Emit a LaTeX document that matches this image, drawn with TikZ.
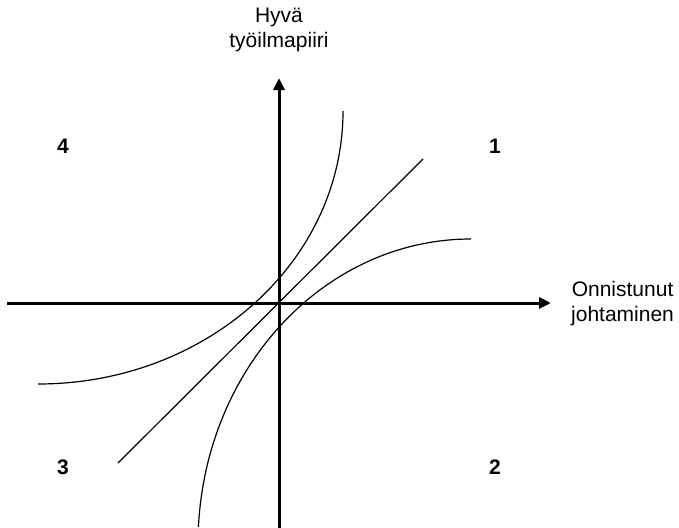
\documentclass[tikz,border=0pt]{standalone}
\usepackage{fontspec}
\setmainfont{Liberation Sans}
\usetikzlibrary{arrows.meta}
\tikzset{
  axis/.style={line width=3pt,-{Triangle[length=12pt,width=11pt]}},
  curve/.style={line width=1.2pt},
  axlabel/.style={align=center,font=\fontsize{21}{25}\selectfont,inner sep=0pt},
  quad/.style={font=\fontsize{21}{25}\selectfont\bfseries,inner sep=0pt}
}
\begin{document}
\begin{tikzpicture}[x=1pt,y=-1pt]
\useasboundingbox (0,0) rectangle (679,527);
% axes
\coordinate (xs) at (7,303);
\coordinate (xe) at (551,303);
\coordinate (ys) at (279,530);
\coordinate (ye) at (279,78);
\draw[axis] (xs) -- (xe);
\draw[axis] (ys) -- (ye);
% diagonal
\coordinate (d1) at (118,463);
\coordinate (d2) at (423,159);
\draw[curve] (d1) -- (d2);
% curves (elliptic arcs)
\coordinate (c1) at (343,111);
\coordinate (c2) at (471,239);
\draw[curve] (c1) arc[start angle=0,end angle=90,x radius=305,y radius=273];
\draw[curve] (c2) arc[start angle=-90,end angle=-176.8,x radius=273,y radius=305];
% labels
\node[axlabel] (yl) at (279,30) {Hyvä\\työilmapiiri};
\node[axlabel,anchor=west] (xl) at (571,304) {Onnistunut\\johtaminen};
\node[quad] (q1) at (495,146) {1};
\node[quad] (q2) at (495,467) {2};
\node[quad] (q3) at (63,467) {3};
\node[quad] (q4) at (63,146) {4};
\end{tikzpicture}
\end{document}
